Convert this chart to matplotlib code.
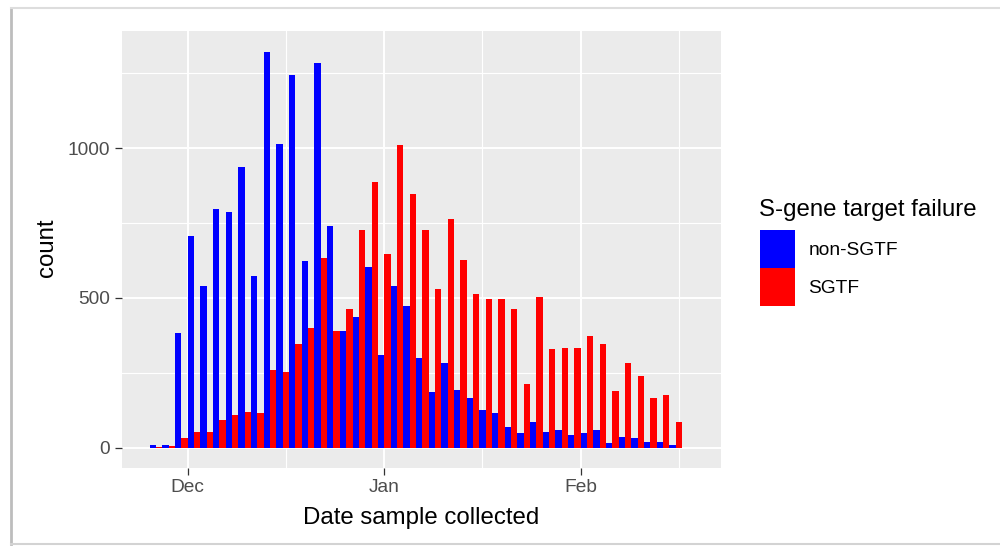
#!/usr/bin/env python3
"""Dodged 2-day histogram of samples by S-gene target failure status."""

import matplotlib

matplotlib.use("Agg")
import matplotlib.dates as mdates
import matplotlib.pyplot as plt
import pandas as pd
from matplotlib.lines import Line2D
from matplotlib.patches import Patch

FIRST_BIN = "2020-11-25"
BIN_DAYS = 2
GROUPS = ["non-SGTF", "SGTF"]
NON_SGTF = [9, 9, 384, 708, 540, 797, 786, 938, 573, 1322, 1015, 1245, 624, 1284,
            741, 390, 435, 602, 311, 541, 474, 299, 187, 284, 193, 165, 126, 115,
            70, 48, 87, 53, 59, 42, 48, 59, 14, 37, 31, 20, 20, 9]
SGTF = [3, 4, 31, 53, 53, 92, 109, 120, 115, 259, 254, 345, 401, 634,
        390, 462, 726, 888, 647, 1011, 848, 726, 530, 764, 625, 513, 495, 495,
        462, 211, 502, 328, 334, 334, 373, 345, 189, 284, 239, 165, 176, 87]
MONTH_TICKS = ["2020-12-01", "2021-01-01", "2021-02-01"]
MONTH_LABELS = ["Dec", "Jan", "Feb"]
Y_TICKS = [0, 500, 1000]
Y_MINOR = [250, 750, 1250]

COLORS = ["#0000FF", "#FF0000"]
FONT = "Liberation Sans"
TICK_GREY = "#4D4D4D"

plt.rcParams["font.family"] = [FONT, "DejaVu Sans"]

fig = plt.figure(figsize=(10, 5.46), dpi=100)
ax = fig.add_axes([0.1217, 0.1434, 0.599, 0.7998])

bin_starts = mdates.date2num(pd.date_range(FIRST_BIN, periods=len(NON_SGTF), freq=f"{BIN_DAYS}D"))
half = BIN_DAYS / 2
ax.bar(bin_starts, NON_SGTF, width=half, align="edge", color=COLORS[0], linewidth=0, zorder=3)
ax.bar(bin_starts + half, SGTF, width=half, align="edge", color=COLORS[1], linewidth=0, zorder=3)

dec1 = mdates.date2num(pd.Timestamp(MONTH_TICKS[0]))
month_pos = mdates.date2num(pd.to_datetime(MONTH_TICKS))
ax.set_xlim(dec1 - 10.41, dec1 + 84.08)
ax.set_ylim(-66.8, 1391)

ax.set_xticks(month_pos)
ax.set_xticklabels(MONTH_LABELS)
ax.set_xticks(month_pos + 15.5, minor=True)
ax.set_yticks(Y_TICKS)
ax.set_yticks(Y_MINOR, minor=True)

ax.set_facecolor("#EBEBEB")
for spine in ax.spines.values():
    spine.set_visible(False)
ax.set_axisbelow(True)
ax.grid(which="major", color="white", linewidth=1.4)
ax.grid(which="minor", color="white", linewidth=0.8)

ax.tick_params(which="major", length=4.8, width=0.9, color="#333333",
               labelsize=13.8, labelcolor=TICK_GREY, pad=3.5)
ax.tick_params(which="minor", length=0)

ax.set_xlabel("Date sample collected", fontsize=17.3, color="black")
ax.xaxis.label.set_va("center")
ax.xaxis.set_label_coords(0.5005, -0.115)
ax.set_ylabel("count", fontsize=17.3, color="black")
ax.yaxis.label.set_va("center")
ax.yaxis.set_label_coords(-0.125, 0.503)

# legend: title set apart from the keys, as ggplot does
fig.text(0.759, 1 - 210 / 546, "S-gene target failure", fontsize=17.3,
         ha="left", va="center")
handles = [Patch(facecolor=c, edgecolor="none") for c in COLORS]
ax.legend(handles, GROUPS, loc="upper left", bbox_to_anchor=(0.760, 1 - 230 / 546),
          bbox_transform=fig.transFigure, frameon=False, fontsize=13.8,
          handlelength=1.83, handleheight=2.68, labelspacing=0,
          handletextpad=0.7, borderpad=0, borderaxespad=0)

# screenshot frame edges
fig.add_artist(Line2D([0.011, 0.011], [0.004, 0.985], transform=fig.transFigure,
                      color="#BDBDBD", linewidth=2.0))
fig.add_artist(Line2D([0.011, 1.0], [0.985, 0.985], transform=fig.transFigure,
                      color="#DDDDDD", linewidth=1.5))
fig.add_artist(Line2D([0.011, 1.0], [0.004, 0.004], transform=fig.transFigure,
                      color="#D3D3D3", linewidth=1.5))

fig.savefig("out.png", dpi=100)
